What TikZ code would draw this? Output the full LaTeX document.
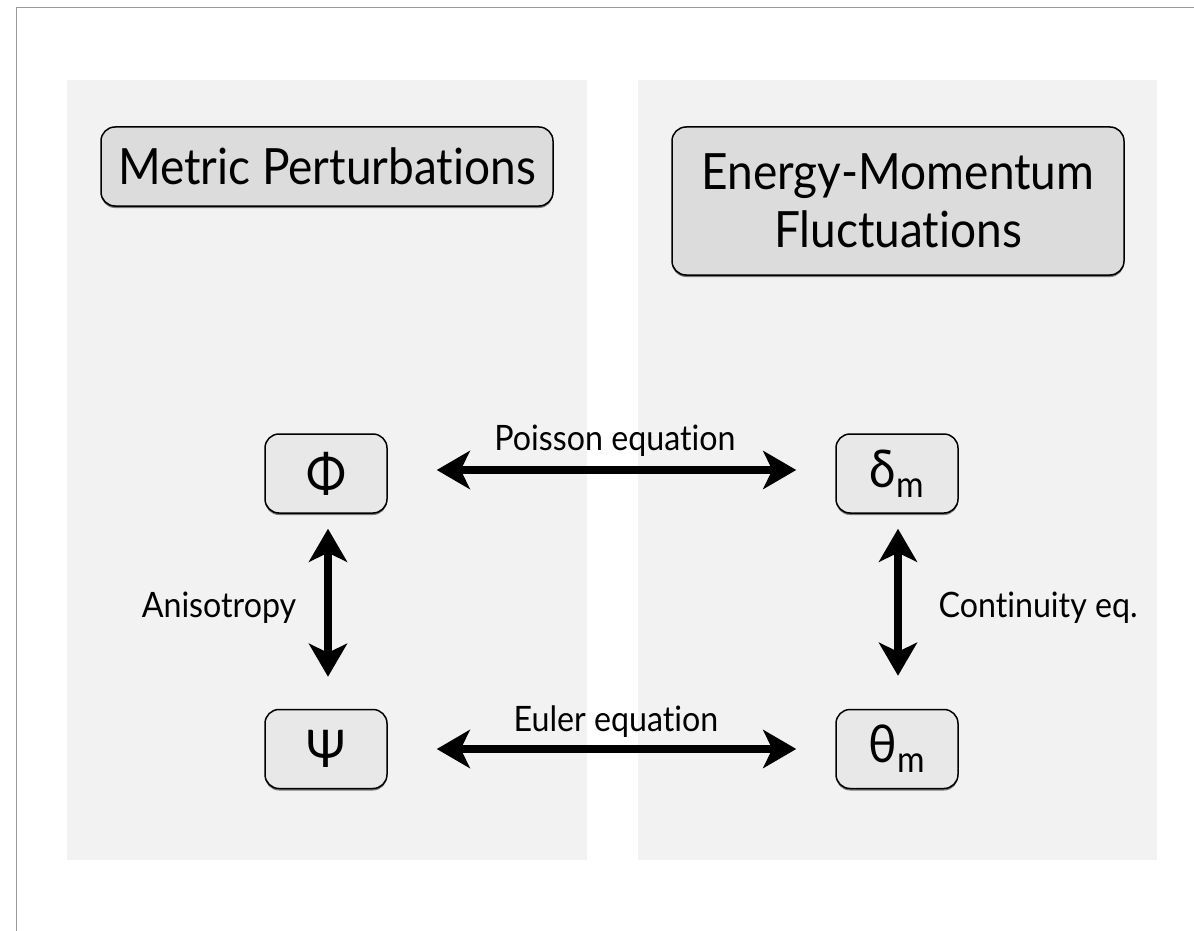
\documentclass[tikz,border=0pt]{standalone}
\usepackage{fontspec}
\setmainfont{Lato}[FakeStretch=0.92, Ligatures=NoCommon]
\usepackage{xcolor}
\usepackage{tikz}
\usetikzlibrary{arrows.meta,shadows}

\definecolor{panelgray}{HTML}{F2F2F2}
\definecolor{titlegray}{HTML}{DCDCDC}
\definecolor{boxgray}{HTML}{E8E8E8}
\definecolor{framegray}{HTML}{9A9A9A}

\begin{document}
\begin{tikzpicture}[x=1pt, y=-1pt,
        titlebox/.style={draw, line width=1.5pt, rounded corners=14pt, fill=titlegray,
            minimum width=452pt, align=center,
            drop shadow={shadow xshift=0pt, shadow yshift=-2pt, opacity=0.5, fill=black},
            font=\fontsize{50}{58}\selectfont},
        varbox/.style={draw, line width=1.5pt, rounded corners=14pt, fill=boxgray,
            minimum width=122pt, minimum height=79pt,
            drop shadow={shadow xshift=0pt, shadow yshift=-2pt, opacity=0.5, fill=black},
            font=\fontsize{52}{60}\selectfont},
        relation/.style={line width=8pt, {Stealth[length=33pt, width=38pt, inset=9pt]}-{Stealth[length=33pt, width=38pt, inset=9pt]}},
        eqlabel/.style={font=\fontsize{35}{42}\selectfont, anchor=base}]
        \useasboundingbox (0,0) rectangle (1194,931);
        \fill[white] (0,0) rectangle (1194,931);

        % --- frame and panels ---
        \draw[framegray, line width=1pt] (1194,8) -- (16,8) -- (16,931);
        \fill[panelgray] (67,80) rectangle (587,860);
        \fill[panelgray] (638,80) rectangle (1157,860);

        % --- titles ---
        \node[titlebox, minimum height=79pt] (metric) at (327,166.5) {Metric Perturbations};
        \node[titlebox, minimum height=148pt] (energy) at (898,201) {Energy-Momentum\\Fluctuations};

        % --- variables ---
        \node[varbox] (phi)   at (326,473.5) {Φ};
        \node[varbox] (psi)   at (326,749)   {Ψ};
        \node[varbox] (delta) at (897,473.5) {δ\textsubscript{m}};
        \node[varbox] (theta) at (897,749)   {θ\textsubscript{m}};

        % --- relations ---
        \draw[relation, shorten <=49pt, shorten >=39pt] ([yshift=3.5]phi.east) -- ([yshift=3.5]delta.west);
        \draw[relation, shorten <=49pt, shorten >=39pt] (psi.east) -- (theta.west);
        \draw[relation, shorten <=15pt, shorten >=32pt] ([xshift=2]phi.south) -- ([xshift=2]psi.north);
        \draw[relation, shorten <=15pt, shorten >=33pt] ([xshift=1]delta.south) -- ([xshift=1]theta.north);

        \node[eqlabel] (poisson) at (615,450) {Poisson equation};
        \node[eqlabel] (euler) at (616,731) {Euler equation};
        \node[eqlabel] (aniso) at (219,617) {Anisotropy};
        \node[eqlabel, anchor=base west] (contin) at (935,617) {Continuity eq.};
    \end{tikzpicture}
\end{document}
